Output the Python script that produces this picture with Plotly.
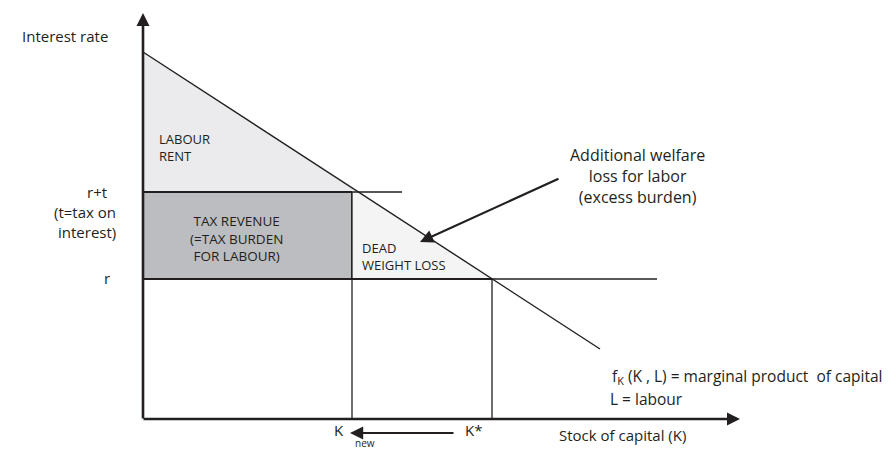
import plotly.graph_objects as go

# ---- data (diagram units: origin at axes crossing) ----
mpk_K = [0, 457]          # marginal product of capital line, K values
mpk_rate = [367, 70]      # corresponding interest rate values
r = 140                   # interest rate
r_plus_t = 227            # interest rate plus tax
K_new = 209               # capital stock after tax
K_star = 349              # capital stock before tax
r_line_end = 514
rt_line_end = 259
x_axis_end = 597
y_axis_end = 406
welfare_arrow_tail = [417, 241]
welfare_arrow_head = [277, 177]
k_arrow_from = 312
k_arrow_to = 207
k_arrow_level = -14

INK = "#231f20"
FONT = "Open Sans"


def mpk(k):
    slope = (mpk_rate[1] - mpk_rate[0]) / (mpk_K[1] - mpk_K[0])
    return mpk_rate[0] + slope * (k - mpk_K[0])


fig = go.Figure()

# Labour rent triangle
fig.add_trace(go.Scatter(
    x=[0, 0, K_new, K_new, 0], y=[mpk_rate[0], r_plus_t, r_plus_t, mpk(K_new), mpk_rate[0]],
    fill="toself", fillcolor="#ebebed", line=dict(width=0), mode="lines", hoverinfo="skip"))
# Tax revenue rectangle
fig.add_trace(go.Scatter(
    x=[0, K_new, K_new, 0, 0], y=[r_plus_t, r_plus_t, r, r, r_plus_t],
    fill="toself", fillcolor="#bcbdc0", line=dict(width=1.8, color=INK), mode="lines", hoverinfo="skip"))
# Dead weight loss triangle
fig.add_trace(go.Scatter(
    x=[K_new, K_new, K_star, K_new], y=[mpk(K_new), r, r, mpk(K_new)],
    fill="toself", fillcolor="#f4f4f4", line=dict(width=0), mode="lines", hoverinfo="skip"))

# horizontal lines
fig.add_trace(go.Scatter(x=[0, rt_line_end], y=[r_plus_t, r_plus_t], mode="lines",
                         line=dict(color=INK, width=1.3), hoverinfo="skip"))
fig.add_trace(go.Scatter(x=[0, r_line_end], y=[r, r], mode="lines",
                         line=dict(color=INK, width=1.3), hoverinfo="skip"))
fig.add_trace(go.Scatter(x=[K_new, K_star], y=[r, r], mode="lines",
                         line=dict(color=INK, width=2.2), hoverinfo="skip"))
# vertical lines
fig.add_trace(go.Scatter(x=[K_new, K_new], y=[0, r_plus_t], mode="lines",
                         line=dict(color=INK, width=1.3), hoverinfo="skip"))
fig.add_trace(go.Scatter(x=[K_star, K_star], y=[0, r], mode="lines",
                         line=dict(color=INK, width=1.3), hoverinfo="skip"))
# MPK line
fig.add_trace(go.Scatter(x=mpk_K, y=mpk_rate, mode="lines",
                         line=dict(color=INK, width=1.4), hoverinfo="skip"))

# axes with arrows
arrow_common = dict(text="", showarrow=True, xref="x", yref="y", axref="x", ayref="y",
                    arrowcolor=INK, arrowhead=2, standoff=0)
fig.add_annotation(x=0, y=y_axis_end, ax=0, ay=-1, arrowwidth=2.6, arrowsize=1.0, **arrow_common)
fig.add_annotation(x=x_axis_end, y=0, ax=-1, ay=0, arrowwidth=2.6, arrowsize=1.0, **arrow_common)
fig.add_annotation(x=welfare_arrow_head[0], y=welfare_arrow_head[1],
                   ax=welfare_arrow_tail[0], ay=welfare_arrow_tail[1],
                   arrowwidth=2.2, arrowsize=1.2, **arrow_common)
fig.add_annotation(x=k_arrow_to, y=k_arrow_level, ax=k_arrow_from, ay=k_arrow_level,
                   arrowwidth=2.2, arrowsize=1.2, **arrow_common)


def txt(x, y, s, size=14, xanchor="center", align="center"):
    fig.add_annotation(x=x, y=y, text=s, showarrow=False, xref="x", yref="y",
                       xanchor=xanchor, yanchor="middle", align=align,
                       font=dict(family=FONT, size=size, color=INK))


txt(-123, 383, "Interest rate", size=15, xanchor="left")
txt(14, 272, "LABOUR<br>RENT", size=13, xanchor="left", align="left")
txt(-46, 227, "r+t", size=15)
txt(-25, 207, "(t=tax on", size=15, xanchor="right")
txt(-25, 187, "interest)", size=15, xanchor="right")
txt(-36, 141, "r", size=15)
txt(93, 181, "TAX REVENUE<br>(=TAX BURDEN<br>FOR LABOUR)", size=13.5)
txt(217, 163, "DEAD<br>WEIGHT LOSS", size=13, xanchor="left", align="left")
txt(494, 243, "Additional welfare<br>loss for labor<br>(excess burden)", size=16)
txt(467, 43, "f<sub>K</sub> (K , L) = marginal product  of capital", size=15.5, xanchor="left")
txt(465, 20, "L = labour", size=15.5, xanchor="left")
txt(189, -11, "K", size=15, xanchor="left")
txt(210, -24, "new", size=10, xanchor="left")
txt(320, -11, "K*", size=15, xanchor="left")
txt(414, -16, "Stock of capital (K)", size=15, xanchor="left")

fig.update_layout(
    width=896, height=451,
    margin=dict(l=0, r=0, t=0, b=0),
    paper_bgcolor="white", plot_bgcolor="white",
    showlegend=False,
    xaxis=dict(range=[-143, 753], visible=False, fixedrange=True),
    yaxis=dict(range=[-32, 419], visible=False, fixedrange=True),
)

fig.write_html("out.html", config={"displayModeBar": False},
               post_script="document.body.style.margin='0';document.body.style.overflow='hidden';")
